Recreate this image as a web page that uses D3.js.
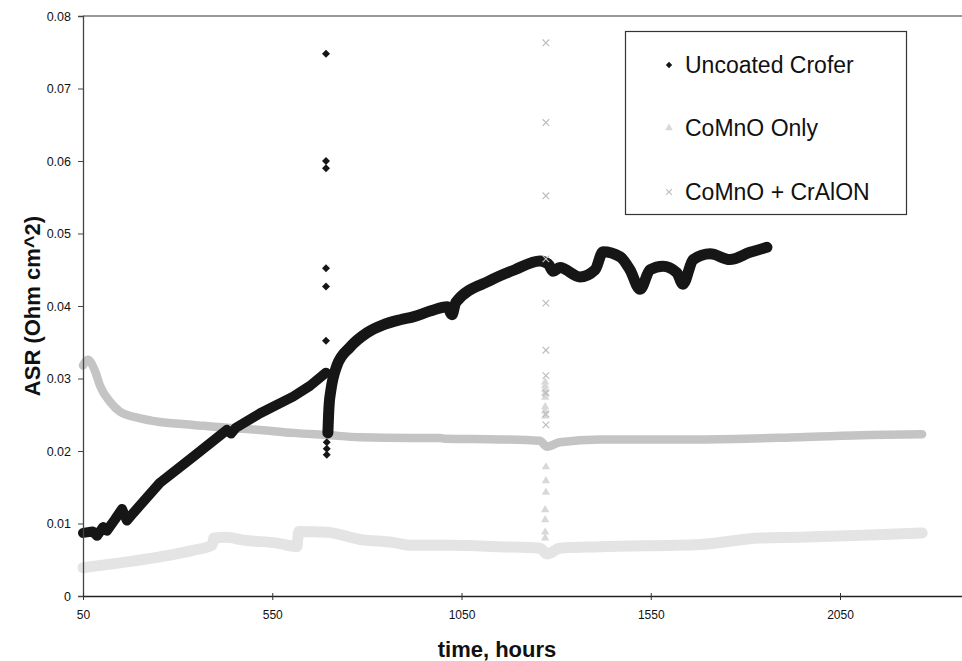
<!DOCTYPE html>
<html>
<head>
<meta charset="utf-8">
<script src="https://cdn.jsdelivr.net/npm/d3@7"></script>
<style>
  html, body { margin: 0; padding: 0; background: #fff; }
  svg { display: block; font-family: "Liberation Sans", Arial, sans-serif; }
</style>
</head>
<body>
<svg id="chart" width="962" height="661"></svg>
<script>
// ---------------- DATA ----------------
const seriesNames = ["Uncoated Crofer", "CoMnO Only", "CoMnO + CrAlON"];
const xTickValues = [50, 550, 1050, 1550, 2050];
const yTickValues = [0, 0.01, 0.02, 0.03, 0.04, 0.05, 0.06, 0.07, 0.08];
const yTickLabels = ["0", "0.01", "0.02", "0.03", "0.04", "0.05", "0.06", "0.07", "0.08"];

// Uncoated Crofer : [hours, ASR]
const croferPart1 = [
  [50, 0.0087], [76, 0.0089], [87, 0.0083], [103, 0.0095], [113, 0.0090],
  [135, 0.0106], [153, 0.0120], [166, 0.0104], [182, 0.0114], [253, 0.0156],
  [341, 0.0192], [430, 0.0229], [441, 0.0224], [454, 0.0232], [518, 0.0252],
  [605, 0.0275], [650, 0.0290], [692, 0.0308]
];
const croferPart2 = [
  [697, 0.0225], [700, 0.0262], [705, 0.0284], [721, 0.0318], [755, 0.0343],
  [800, 0.0363], [843, 0.0374], [888, 0.0381], [922, 0.0385], [967, 0.0393],
  [1012, 0.0399], [1025, 0.0388], [1035, 0.0405], [1125, 0.0435], [1191, 0.0450],
  [1257, 0.0462], [1279, 0.0458], [1292, 0.0448], [1310, 0.0453], [1363, 0.0440],
  [1403, 0.0450], [1424, 0.0475], [1469, 0.0468], [1495, 0.0450], [1522, 0.0423],
  [1548, 0.0450], [1582, 0.0455], [1619, 0.0446], [1635, 0.0430], [1662, 0.0464],
  [1707, 0.0472], [1759, 0.0464], [1812, 0.0474], [1857, 0.0481]
];
const croferSpike = [
  [692, 0.0748], [692, 0.0600], [692, 0.0590], [692, 0.0452], [692, 0.0427],
  [692, 0.0352], [694, 0.0212], [694, 0.0203], [694, 0.0195]
];

// CoMnO Only : [hours, ASR]
const comnoOnly = [
  [50, 0.0039], [166, 0.0047], [253, 0.0054], [341, 0.0063], [391, 0.0070],
  [396, 0.0080], [430, 0.0081], [473, 0.0077], [563, 0.0073], [615, 0.0068],
  [620, 0.0089], [695, 0.0088], [782, 0.0078], [869, 0.0074], [914, 0.0070],
  [1020, 0.0070], [1152, 0.0068], [1257, 0.0066], [1276, 0.0058], [1310, 0.0066],
  [1416, 0.0068], [1680, 0.0071], [1839, 0.0080], [1944, 0.0081], [2129, 0.0084],
  [2267, 0.0087]
];
const comnoOnlySpike = [
  [1271, 0.0295], [1271, 0.0290], [1271, 0.0285], [1271, 0.0280], [1271, 0.0274],
  [1271, 0.0261], [1271, 0.0255], [1271, 0.0248], [1273, 0.0178], [1273, 0.0159],
  [1273, 0.0143], [1271, 0.0119], [1271, 0.0105], [1271, 0.0088], [1271, 0.0080]
];

// CoMnO + CrAlON : [hours, ASR]
const comnoCralon = [
  [50, 0.0318], [63, 0.0326], [82, 0.0310], [95, 0.0290], [121, 0.0268],
  [148, 0.0254], [193, 0.0246], [253, 0.0240], [341, 0.0236], [430, 0.0232],
  [518, 0.0229], [605, 0.0225], [695, 0.0222], [782, 0.0219], [914, 0.0218],
  [993, 0.0218], [1006, 0.0217], [1152, 0.0216], [1257, 0.0214], [1276, 0.0206],
  [1310, 0.0212], [1416, 0.0216], [1548, 0.0216], [1680, 0.0216], [1944, 0.0219],
  [2129, 0.0222], [2267, 0.0223]
];
const comnoCralonSpike = [
  [1273, 0.0763], [1273, 0.0653], [1273, 0.0552], [1273, 0.0465], [1273, 0.0404],
  [1273, 0.0339], [1273, 0.0304], [1273, 0.0280], [1273, 0.0251], [1273, 0.0236]
];

// ---------------- CHART ----------------
const svg = d3.select("#chart");
const plotLeft = 83, plotTop = 16, plotBottom = 596;
const hoursPerMajor = 500, pxPerMajor = 189.25;

const x = d3.scaleLinear()
  .domain([50, 2550])
  .range([plotLeft, plotLeft + pxPerMajor * (2500 / hoursPerMajor)]);
const y = d3.scaleLinear().domain([0, 0.08]).range([plotBottom, plotTop]);

const colBlack = "#161616", colUpper = "#c4c4c4", colLower = "#e4e4e4";
const colX = "#bdbdbd", colTri = "#d8d8d8";

// top frame line
svg.append("line")
  .attr("x1", plotLeft).attr("x2", 962)
  .attr("y1", plotTop).attr("y2", plotTop)
  .attr("stroke", "#777").attr("stroke-width", 1.3);

const smooth = d3.line().x(d => x(d[0])).y(d => y(d[1])).curve(d3.curveMonotoneX);
const straight = d3.line().x(d => x(d[0])).y(d => y(d[1]));
const g = svg.append("g");

function band(data, color, width, gen) {
  g.append("path").datum(data)
    .attr("d", gen)
    .attr("fill", "none")
    .attr("stroke", color)
    .attr("stroke-width", width)
    .attr("stroke-linejoin", "round")
    .attr("stroke-linecap", "round");
}

band(comnoOnly, colLower, 11, smooth);
band(comnoCralon, colUpper, 8.5, smooth);
band(croferPart1, colBlack, 10, straight);
band(croferPart2, colBlack, 11, smooth);

// spike markers
const diamond = d3.symbol().type(d3.symbolSquare).size(32);
const triangle = d3.symbol().type(d3.symbolTriangle).size(30);
const cross = d3.symbol().type(d3.symbolX).size(30);

g.selectAll(".tri").data(comnoOnlySpike).join("path")
  .attr("transform", d => `translate(${x(d[0])},${y(d[1])})`)
  .attr("d", triangle).attr("fill", colTri);
g.selectAll(".dia").data(croferSpike).join("path")
  .attr("transform", d => `translate(${x(d[0])},${y(d[1])}) rotate(45)`)
  .attr("d", diamond).attr("fill", colBlack);
g.selectAll(".crs").data(comnoCralonSpike).join("path")
  .attr("transform", d => `translate(${x(d[0])},${y(d[1])})`)
  .attr("d", cross).attr("fill", "none").attr("stroke", colX).attr("stroke-width", 1.2);

// axes
const yAxis = d3.axisLeft(y)
  .tickValues(yTickValues)
  .tickFormat((d, i) => yTickLabels[i])
  .tickSize(5).tickPadding(7);
const yg = svg.append("g").attr("transform", `translate(${plotLeft},0)`).call(yAxis);
yg.select(".domain").attr("stroke", "#444").attr("stroke-width", 1.3);
yg.selectAll(".tick line").attr("stroke", "#444");
yg.selectAll("text").attr("font-size", 12.5).attr("fill", "#111")
  .attr("font-family", "Liberation Sans, Arial, sans-serif");

const xAxis = d3.axisBottom(x)
  .tickValues(xTickValues)
  .tickFormat(d3.format("d"))
  .tickSizeInner(4).tickSizeOuter(0).tickPadding(10);
const xg = svg.append("g").attr("transform", `translate(0,${plotBottom})`).call(xAxis);
xg.select(".domain").attr("stroke", "#222").attr("stroke-width", 1.3);
xg.selectAll(".tick line").attr("stroke", "#333").attr("y1", -3);
xg.selectAll("text").attr("font-size", 12).attr("fill", "#111")
  .attr("font-family", "Liberation Sans, Arial, sans-serif");

// axis titles
svg.append("text")
  .attr("transform", "translate(40,306) rotate(-90)")
  .attr("text-anchor", "middle")
  .attr("font-size", 22).attr("font-weight", "bold").attr("fill", "#111")
  .text("ASR (Ohm cm^2)");
svg.append("text")
  .attr("x", 497).attr("y", 657)
  .attr("text-anchor", "middle")
  .attr("font-size", 22).attr("font-weight", "bold").attr("fill", "#111")
  .text("time, hours");

// legend
const lg = svg.append("g");
lg.append("rect").attr("x", 625.5).attr("y", 31.5).attr("width", 281).attr("height", 183)
  .attr("fill", "#fff").attr("stroke", "#333").attr("stroke-width", 1.2);
const legendItems = [
  { name: seriesNames[0], sym: d3.symbol().type(d3.symbolSquare).size(20), fill: colBlack, stroke: "none", rot: 45, cy: 65 },
  { name: seriesNames[1], sym: d3.symbol().type(d3.symbolTriangle).size(26), fill: colTri, stroke: "none", rot: 0, cy: 128 },
  { name: seriesNames[2], sym: d3.symbol().type(d3.symbolX).size(24), fill: "none", stroke: colX, rot: 0, cy: 192 }
];
legendItems.forEach(it => {
  lg.append("path").attr("d", it.sym).attr("fill", it.fill)
    .attr("stroke", it.stroke).attr("stroke-width", 1.1)
    .attr("transform", `translate(669,${it.cy}) rotate(${it.rot})`);
  lg.append("text").attr("x", 685).attr("y", it.cy + 8)
    .attr("font-size", 23).attr("fill", "#111").text(it.name);
});
</script>
</body>
</html>
